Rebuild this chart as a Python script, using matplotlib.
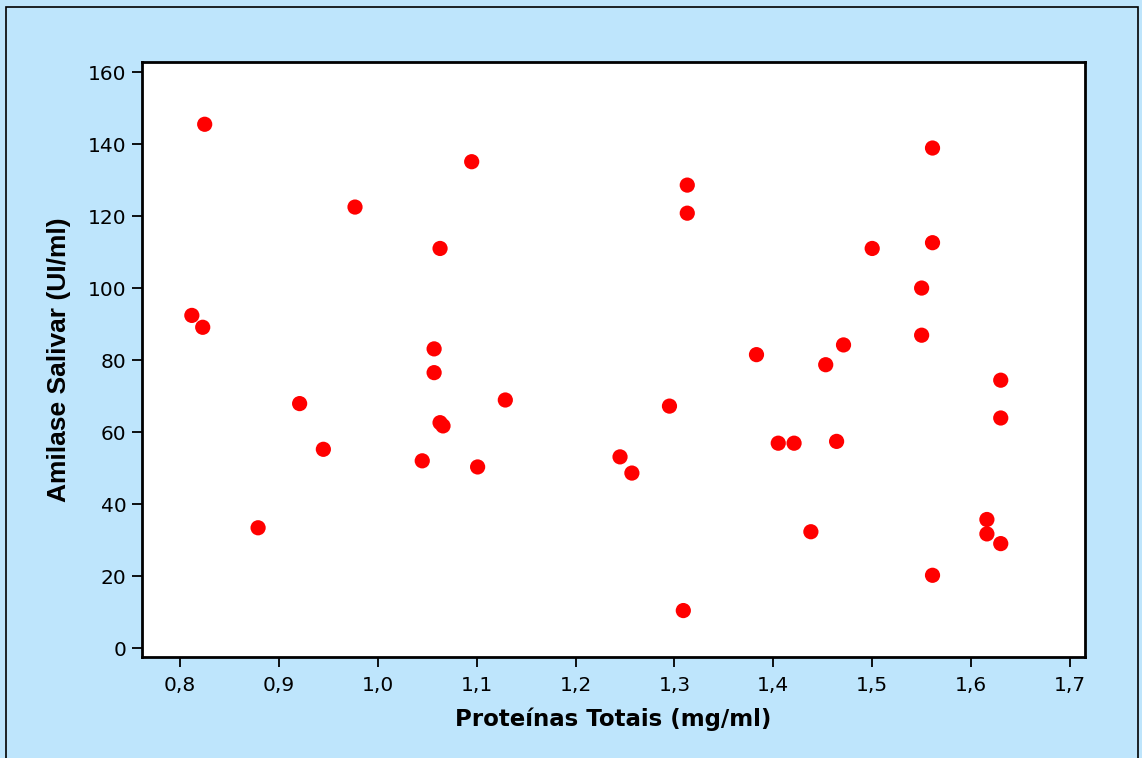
import matplotlib
matplotlib.use("Agg")
import matplotlib.pyplot as plt
from matplotlib.patches import Rectangle
from matplotlib.ticker import FuncFormatter

proteinas = [0.825, 0.812, 0.823, 0.879, 0.921, 0.945, 0.977, 1.045, 1.057, 1.057,
             1.063, 1.063, 1.066, 1.095, 1.101, 1.129,
             1.245, 1.257, 1.295, 1.309, 1.313, 1.313, 1.383, 1.405, 1.421,
             1.438, 1.453, 1.464, 1.471, 1.500, 1.550, 1.550, 1.561, 1.561,
             1.561, 1.616, 1.616, 1.630, 1.630, 1.630]
amilase = [145.5, 92.4, 89.1, 33.4, 67.9, 55.2, 122.5, 52.0, 83.1, 76.5,
           111.0, 62.6, 61.7, 135.1, 50.3, 68.9,
           53.1, 48.6, 67.2, 10.4, 128.6, 120.8, 81.5, 56.9, 56.9,
           32.3, 78.7, 57.4, 84.2, 111.0, 100.0, 86.9, 138.9, 112.6,
           20.2, 35.7, 31.7, 74.4, 63.9, 29.0]
x_ticks = [0.8, 0.9, 1.0, 1.1, 1.2, 1.3, 1.4, 1.5, 1.6, 1.7]
y_ticks = [0, 20, 40, 60, 80, 100, 120, 140, 160]

bg = "#BEE5FC"
fig = plt.figure(figsize=(11.42, 7.58), dpi=100, facecolor=bg)
fig.patches.append(Rectangle((6/1142, -0.05), (1138-6)/1142, (751+0.05*758)/758,
                             transform=fig.transFigure, fill=False,
                             edgecolor="black", linewidth=1.2))
ax = fig.add_axes([142/1142, (758-657)/758, (1085-142)/1142, (657-62)/758])
ax.set_facecolor("white")
ax.scatter(proteinas, amilase, s=120, color="#FF0000", edgecolors="none", zorder=3)

ax.set_xlim(0.7616, 1.7152)
ax.set_ylim(-2.5, 162.8)
ax.set_xticks(x_ticks)
ax.set_yticks(y_ticks)
ax.xaxis.set_major_formatter(FuncFormatter(lambda v, p: f"{v:.1f}".replace(".", ",")))
ax.tick_params(direction="out", length=7, width=1.3, labelsize=14.5, colors="black")
ax.tick_params(axis="x", pad=7)
ax.tick_params(axis="y", pad=4)
for s in ax.spines.values():
    s.set_linewidth(2)
    s.set_color("black")

ax.set_xlabel("Proteínas Totais (mg/ml)", fontsize=16.5, fontweight="bold", labelpad=9)
ax.set_ylabel("Amilase Salivar (UI/ml)", fontsize=19, fontweight="bold",
              family="Liberation Sans", labelpad=12)

fig.savefig("out.png", dpi=100, facecolor=bg)
